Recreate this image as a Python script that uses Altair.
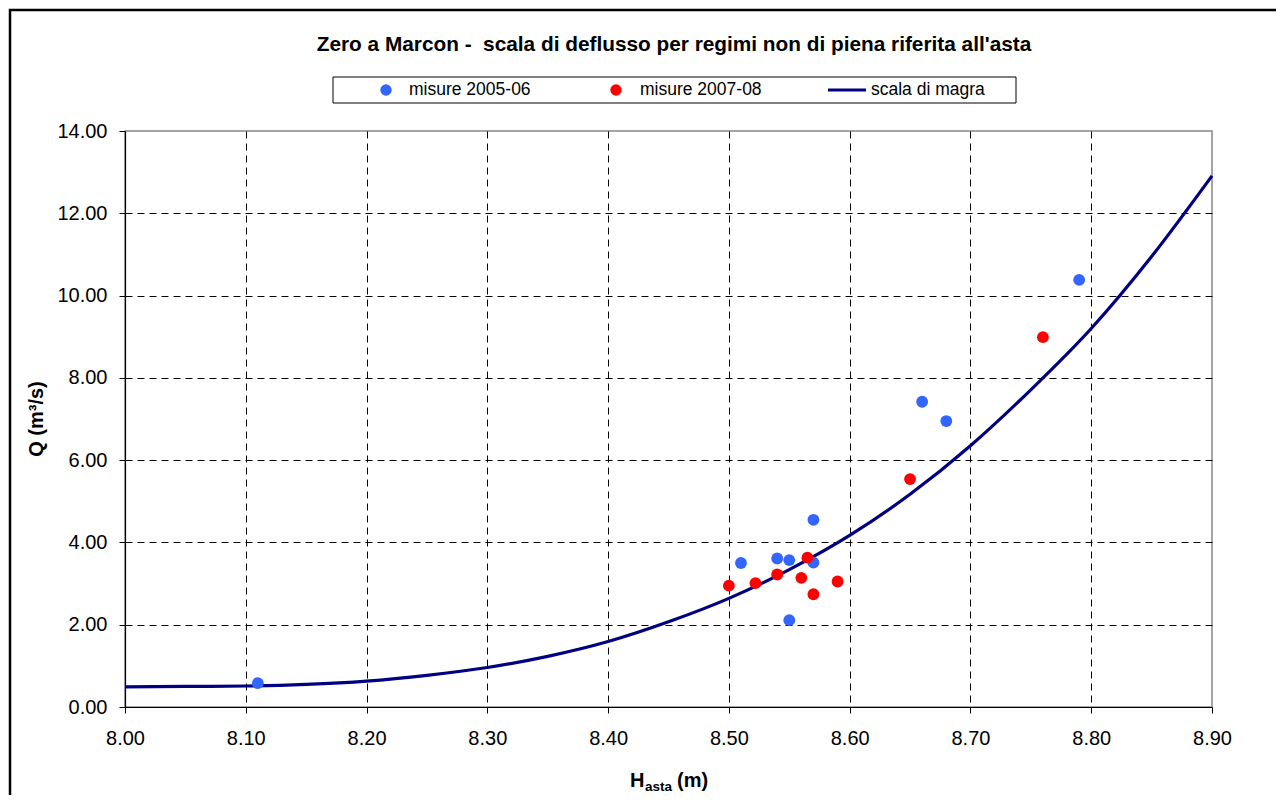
import altair as alt
import pandas as pd

# ---------------- data ----------------
h_2005 = [8.11, 8.51, 8.54, 8.55, 8.55, 8.57, 8.57, 8.66, 8.68, 8.79]
q_2005 = [0.58, 3.50, 3.61, 3.57, 2.11, 4.55, 3.51, 7.42, 6.95, 10.38]

h_2007 = [8.50, 8.522, 8.54, 8.56, 8.565, 8.57, 8.59, 8.65, 8.76]
q_2007 = [2.95, 3.01, 3.22, 3.14, 3.63, 2.74, 3.05, 5.54, 8.99]

h_curve = [8.00, 8.05, 8.10, 8.15, 8.20, 8.25, 8.30, 8.35, 8.40, 8.45,
           8.50, 8.55, 8.60, 8.65, 8.70, 8.75, 8.80, 8.85, 8.90]
q_curve = [0.49, 0.50, 0.51, 0.55, 0.63, 0.77, 0.96, 1.23, 1.59, 2.07,
           2.64, 3.34, 4.17, 5.17, 6.35, 7.71, 9.20, 10.95, 12.91]

x_ticks = [8.0, 8.1, 8.2, 8.3, 8.4, 8.5, 8.6, 8.7, 8.8, 8.9]
y_ticks = [0, 2, 4, 6, 8, 10, 12, 14]

title_text = "Zero a Marcon -\u00a0 scala di deflusso per regimi non di piena riferita all'asta"
legend_labels = ["misure 2005-06", "misure 2007-08", "scala di magra"]
series_colors = ["#3366FF", "#FF0000", "#000080"]
y_title = "Q (m³/s)"
x_title_parts = ["H", "asta", "(m)"]

FONT = "Liberation Sans"
W, H = 1087, 576

df_a = pd.DataFrame({"h": h_2005, "q": q_2005})
df_b = pd.DataFrame({"h": h_2007, "q": q_2007})
df_c = pd.DataFrame({"h": h_curve, "q": q_curve})

x_enc = alt.X(
    "h:Q",
    scale=alt.Scale(domain=[8.0, 8.9], nice=False, zero=False),
    axis=alt.Axis(
        values=x_ticks, format=".2f", title=None,
        labelFont=FONT, labelFontSize=20, labelColor="black",
        labelPadding=15, tickSize=6, tickColor="black",
        domainColor="black", domainWidth=1.2,
        grid=True,
        gridColor={"condition": {"test": "datum.value >= 8.89 || datum.value <= 8.01",
                                 "value": "transparent"}, "value": "black"},
        gridDash=[7, 5], gridWidth=1,
        labelFlush=False,
    ),
)
y_enc = alt.Y(
    "q:Q",
    scale=alt.Scale(domain=[0, 14], nice=False),
    axis=alt.Axis(
        values=y_ticks, format=".2f", title=None,
        labelFont=FONT, labelFontSize=20, labelColor="black",
        labelPadding=12, tickSize=6, tickColor="black",
        domainColor="black", domainWidth=1.2,
        grid=True,
        gridColor={"condition": {"test": "datum.value >= 13.9 || datum.value <= 0.1",
                                 "value": "transparent"}, "value": "black"},
        gridDash=[7, 5], gridWidth=1,
        labelFlush=False,
    ),
)

curve = alt.Chart(df_c).mark_line(
    color=series_colors[2], strokeWidth=3.2, interpolate="monotone"
).encode(x=x_enc, y=y_enc)

pts_a = alt.Chart(df_a).mark_circle(
    color=series_colors[0], size=140, opacity=1
).encode(x=x_enc, y=y_enc)

pts_b = alt.Chart(df_b).mark_circle(
    color=series_colors[1], size=140, opacity=1
).encode(x=x_enc, y=y_enc)

one = pd.DataFrame({"t": [title_text]})

# outer border
border = alt.Chart(one).mark_rect(
    filled=False, stroke="black", strokeWidth=2.5
).encode(x=alt.value(-115), x2=alt.value(1175), y=alt.value(-121), y2=alt.value(700))

title = alt.Chart(one).mark_text(
    font=FONT, fontSize=20.8, fontWeight="bold", color="black",
    align="center", baseline="middle"
).encode(x=alt.value(549), y=alt.value(-86), text="t:N")

ytitle = alt.Chart(pd.DataFrame({"t": [y_title]})).mark_text(
    font=FONT, fontSize=20, fontWeight="bold", color="black",
    align="center", baseline="middle", angle=270
).encode(x=alt.value(-88), y=alt.value(H / 2), text="t:N")

xt_h = alt.Chart(pd.DataFrame({"t": [x_title_parts[0]]})).mark_text(
    font=FONT, fontSize=20, fontWeight="bold", color="black",
    align="left", baseline="alphabetic"
).encode(x=alt.value(505), y=alt.value(656), text="t:N")
xt_sub = alt.Chart(pd.DataFrame({"t": [x_title_parts[1]]})).mark_text(
    font=FONT, fontSize=13.5, fontWeight="bold", color="black",
    align="left", baseline="alphabetic"
).encode(x=alt.value(520), y=alt.value(660), text="t:N")
xt_m = alt.Chart(pd.DataFrame({"t": [x_title_parts[2]]})).mark_text(
    font=FONT, fontSize=20, fontWeight="bold", color="black",
    align="left", baseline="alphabetic"
).encode(x=alt.value(552), y=alt.value(656), text="t:N")

# legend
leg_box = alt.Chart(one).mark_rect(
    filled=False, stroke="black", strokeWidth=1
).encode(x=alt.value(208), x2=alt.value(891), y=alt.value(-54), y2=alt.value(-28))

leg_dot_a = alt.Chart(one).mark_circle(color=series_colors[0], size=130, opacity=1).encode(
    x=alt.value(261), y=alt.value(-41))
leg_dot_b = alt.Chart(one).mark_circle(color=series_colors[1], size=130, opacity=1).encode(
    x=alt.value(491), y=alt.value(-41))
leg_line = alt.Chart(one).mark_rule(color=series_colors[2], strokeWidth=3.2).encode(
    x=alt.value(703), x2=alt.value(741), y=alt.value(-41))

leg_texts = []
for lbl, xpos in zip(legend_labels, [284, 515, 746]):
    leg_texts.append(
        alt.Chart(pd.DataFrame({"t": [lbl]})).mark_text(
            font=FONT, fontSize=17.5, color="black", align="left", baseline="middle"
        ).encode(x=alt.value(xpos), y=alt.value(-41), text="t:N")
    )

chart = alt.layer(
    curve, pts_a, pts_b, border, title, ytitle, xt_h, xt_sub, xt_m,
    leg_box, leg_dot_a, leg_dot_b, leg_line, *leg_texts
).properties(
    width=W, height=H,
    autosize=alt.AutoSizeParams(type="none"),
    padding={"left": 117, "top": 123, "right": 64, "bottom": 88},
    background="white",
).configure_view(
    stroke="#888888", strokeWidth=1.5
)

chart.save("out.html", embed_options={"renderer": "svg", "actions": False})
